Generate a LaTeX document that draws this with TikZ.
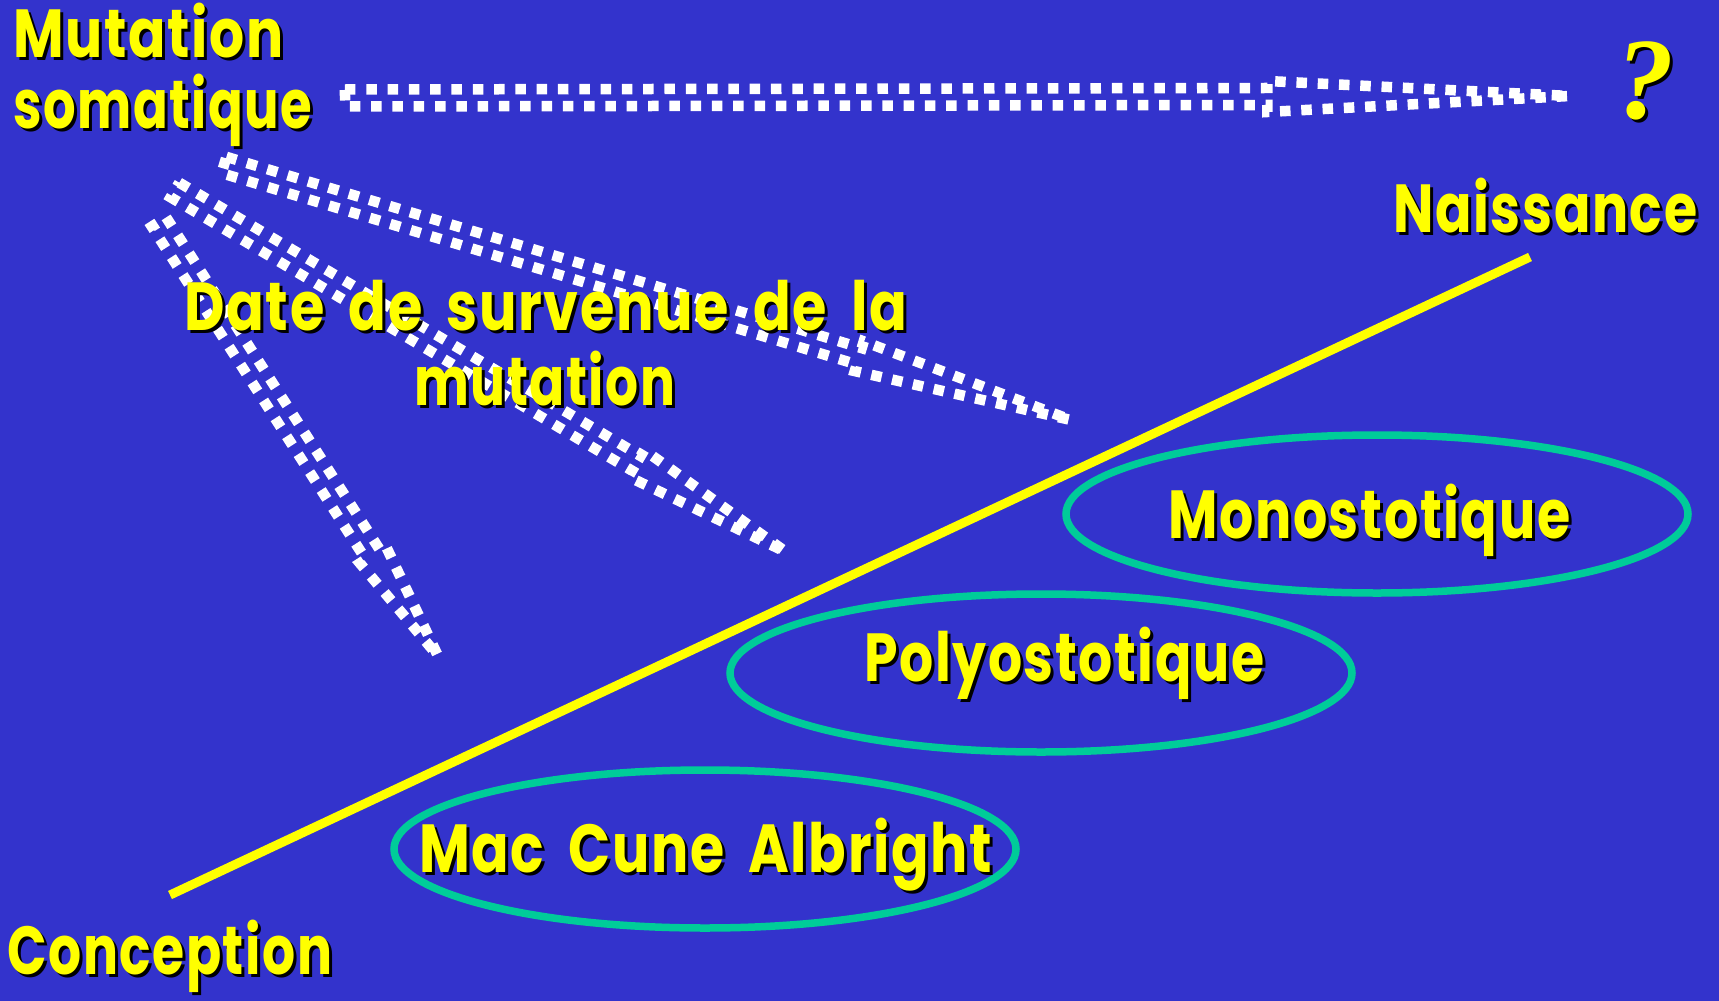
\documentclass[tikz,border=0pt]{standalone}
\usepackage{fontspec}
\usepackage{graphicx}
\setmainfont{Poppins}[LetterSpace=3, WordSpace=1.8]
\newfontfamily\qfont{Liberation Serif}
\usetikzlibrary{calc,shapes.geometric}
\definecolor{bgblue}{RGB}{51,51,204}
\definecolor{tyellow}{RGB}{255,255,0}
\definecolor{egreen}{RGB}{0,204,153}
\tikzset{
  lbl/.style={anchor=base west, inner sep=0pt, text=tyellow,
    font=\fontsize{68}{70}\selectfont\bfseries},
  dotline/.style={draw=white, line width=10.5pt, dash pattern=on 10.5pt off 10.8pt, line join=miter},
  yline/.style={draw=tyellow, line width=9pt},
  ell/.style={ellipse, draw=egreen, line width=7.5pt, inner sep=0pt}
}
\newcommand\shtext[5]{%
  \node[lbl, text=black] at (#2+3,#3+3) {\resizebox{#4pt}{\height}{#5}};
  \node[lbl] (#1) at (#2,#3) {\resizebox{#4pt}{\height}{#5}};
}
\newcommand\dotarrow[3]{%
  \path ($(#1)!#3!(#2)$) coordinate (hh);
  \draw[dotline]
    ($(#1)!8.5pt!90:(#2)$) -- ($(hh)!8.5pt!90:(#2)$) -- ($(hh)!15.5pt!90:(#2)$)
    -- (#2) -- ($(hh)!15.5pt!-90:(#2)$) -- ($(hh)!8.5pt!-90:(#2)$)
    -- ($(#1)!8.5pt!-90:(#2)$) -- cycle;
}
\begin{document}
\begin{tikzpicture}[x=1pt,y=-1pt]
\fill[bgblue] (0,0) rectangle (1719,1001);
\useasboundingbox (0,0) rectangle (1719,1001);

% ellipses
\node[ell, minimum width=622pt, minimum height=158pt] (e1) at (1377,514) {};
\node[ell, minimum width=622pt, minimum height=158pt] (e2) at (1041,673) {};
\node[ell, minimum width=622pt, minimum height=158pt] (e3) at (705,849) {};

% timeline
\coordinate (c1) at (170,895);
\coordinate (c2) at (1530,257);
\draw[yline] (c1) -- (c2);

% dotted block arrows
\coordinate (t1) at (345,98);  \coordinate (p1) at (1570,96);
\coordinate (t2) at (224,165); \coordinate (p2) at (1071,420);
\coordinate (t3) at (175,190); \coordinate (p3) at (786,552);
\coordinate (t4) at (159,222); \coordinate (p4) at (438,656);
\dotarrow{t1}{p1}{0.753}
\dotarrow{t2}{p2}{0.75}
\dotarrow{t3}{p3}{0.755}
\dotarrow{t4}{p4}{0.767}

% texts
\shtext{mut1}{13}{57}{270}{Mutation}
\shtext{mut2}{13}{128}{299}{somatique}
\shtext{nai}{1393}{232}{304}{Naissance}
\shtext{date1}{184}{330}{723}{Date de survenue de la}
\shtext{date2}{414}{405}{261}{mutation}
\shtext{mono}{1168}{538}{402}{Monostotique}
\shtext{poly}{864}{681}{400}{Polyostotique}
\shtext{mca}{419}{872}{573}{Mac Cune Albright}
\shtext{conc}{7}{974}{325}{Conception}

\node[anchor=base, inner sep=0pt, text=black, font=\qfont\fontsize{116}{116}\selectfont\bfseries\itshape] at (1648,121) {?};
\node[anchor=base, inner sep=0pt, text=tyellow, font=\qfont\fontsize{116}{116}\selectfont\bfseries\itshape] (qm) at (1645,118) {?};
\end{tikzpicture}
\end{document}
